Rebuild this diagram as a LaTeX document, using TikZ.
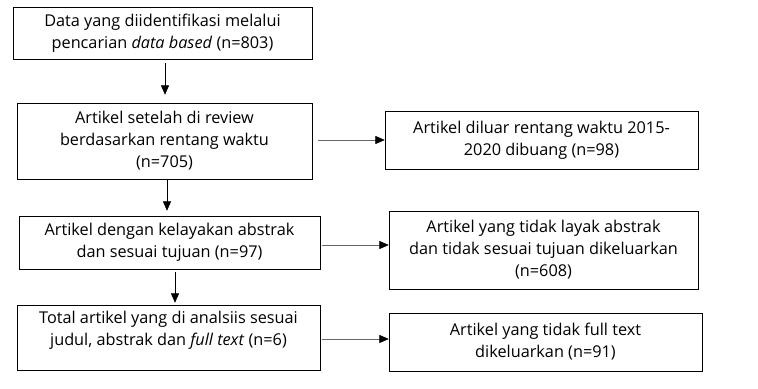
\documentclass[tikz,border=0pt]{standalone}
\usepackage{fontspec}
\setmainfont{Open Sans}
\usetikzlibrary{arrows.meta,calc,positioning}

\begin{document}
\begin{tikzpicture}[x=0.75pt,y=-0.75pt, box/.style={draw=black,thin,align=center,font=\fontsize{12.2}{16.5}\selectfont,inner sep=2pt}, arrowstyle/.style={-{Triangle[length=7pt,width=6pt]},thin}, sidearrow/.style={-{Triangle[length=7pt,width=6pt,color=black]},draw=black!60,thin}]
 \useasboundingbox (0,0) rectangle (758,389);

 % kolom kiri
 \node[box,minimum width=299pt*0.75,minimum height=52pt*0.75] (data) at (162.5,33) {Data yang diidentifikasi melalui\\pencarian \textit{data based} (n=803)};
 \node[box,minimum width=295pt*0.75,minimum height=76pt*0.75] (review) at (164.5,141) {Artikel setelah di review\\berdasarkan rentang waktu\\(n=705)};
 \node[box,minimum width=301pt*0.75,minimum height=53pt*0.75] (abstrak) at (169.5,242.5) {Artikel dengan kelayakan abstrak\\dan sesuai tujuan (n=97)};
 \node[box,minimum width=303pt*0.75,minimum height=65pt*0.75] (total) at (168.5,337.5) {Total artikel yang di analsiis sesuai\\judul, abstrak dan \textit{full text} (n=6)\\[-2pt]};

 % kolom kanan
 \node[box,minimum width=313pt*0.75,minimum height=58pt*0.75] (diluar) at (541.5,140) {Artikel diluar rentang waktu 2015-\\2020 dibuang (n=98)};
 \node[box,minimum width=309pt*0.75,minimum height=78pt*0.75] (tidaklayak) at (543.5,250) {Artikel yang tidak layak abstrak\\dan tidak sesuai tujuan dikeluarkan\\(n=608)};
 \node[box,minimum width=313pt*0.75,minimum height=58pt*0.75] (tidakfull) at (545.5,342) {Artikel yang tidak full text\\dikeluarkan (n=91)};

 % panah ke bawah
 \draw[arrowstyle] (data.south -| 165,0) ++(0,4) -- ($(review.north -| 165,0)+(0,-8)$);
 \draw[arrowstyle] (review.south -| 167,0) -- ($(abstrak.north -| 167,0)+(0,-5)$);
 \draw[arrowstyle] ($(abstrak.south -| 175,0)+(0,3)$) -- ($(total.north -| 175,0)+(0,-2)$);

 % panah ke samping
 \draw[sidearrow] ($(review.east |- 0,140)+(6,0)$) -- (diluar.west |- 0,140);
 \draw[sidearrow] ($(abstrak.east |- 0,245)+(2,0)$) -- (tidaklayak.west |- 0,245);
 \draw[sidearrow] ($(total.east |- 0,339)+(2,0)$) -- (tidakfull.west |- 0,339);
\end{tikzpicture}
\end{document}
